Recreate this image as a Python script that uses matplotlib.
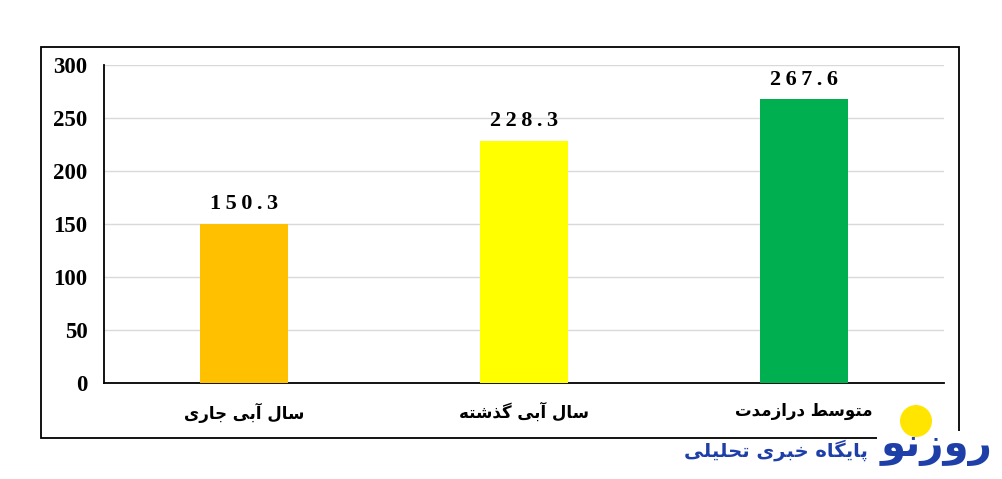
import matplotlib
matplotlib.use("Agg")
import matplotlib.pyplot as plt
from matplotlib.patches import Rectangle, Ellipse

# Persian labels (logical text) and their visual (pre-shaped, RTL-ordered) forms
categories = ["سال آبی جاری", "سال آبی گذشته", "متوسط درازمدت"]
category_display = [
    "\uFEEF\uFEAD\uFE8E\uFE9F \uFEF0\uFE91\uFE81 \uFEDD\uFE8E\uFEB3",
    "\uFEEA\uFE98\uFEB7\uFEAC\uFB94 \uFEF0\uFE91\uFE81 \uFEDD\uFE8E\uFEB3",
    "\uFE95\uFEAA\uFEE3\uFEAF\uFE8D\uFEAD\uFEA9 \uFEC2\uFEB3\uFEEE\uFE98\uFEE3",
]
values = [150.3, 228.3, 267.6]
value_labels = ["150.3", "228.3", "267.6"]
bar_colors = ["#FFC000", "#FFFF00", "#00B050"]
yticks = [0, 50, 100, 150, 200, 250, 300]

logo_word = "\uFEEE\uFEE7\uFEAF\uFEED\uFEAD"  # روزنو
logo_sub = ("\uFEF0\uFEE0\uFEF4\uFEE0\uFEA4\uFE97 "
            "\uFEEF\uFEAE\uFE92\uFEA7 "
            "\uFEE9\uFE8E\uFB95\uFEF3\uFE8E\uFB58")  # پایگاه خبری تحلیلی

W, H = 1003, 479
fig = plt.figure(figsize=(W / 100, H / 100), dpi=100)
fig.patch.set_facecolor("white")

ax = fig.add_axes([104 / W, 1 - 383 / H, (944 - 104) / W, (383 - 65) / H])
x = list(range(len(values)))
ax.bar(x, values, width=0.315, color=bar_colors, zorder=3)
ax.set_xlim(-0.5, len(values) - 0.5)
ax.set_ylim(0, 300)
ax.set_yticks(yticks)
ax.set_yticklabels([str(t) for t in yticks], fontfamily="Liberation Serif",
                   fontweight="bold", fontsize=16.5)
ax.tick_params(axis="y", length=0, pad=12)
ax.tick_params(axis="x", length=0, pad=14)
ax.set_xticks(x)
ax.set_xticklabels(category_display, fontfamily="DejaVu Sans",
                   fontweight="bold", fontsize=12)
ax.grid(axis="y", color="#D9D9D9", linewidth=1, zorder=0)
for s in ["top", "right"]:
    ax.spines[s].set_visible(False)
for s in ["left", "bottom"]:
    ax.spines[s].set_color("black")
    ax.spines[s].set_linewidth(1.3)

for xi, v, lab in zip(x, values, value_labels):
    ax.annotate("\u2009".join(lab), (xi, v), xytext=(0, 7), textcoords="offset points",
                ha="center", va="bottom", fontfamily="Liberation Serif",
                fontweight="bold", fontsize=16, zorder=4)

# outer frame
fig.patches.append(Rectangle((41 / W, 1 - 438 / H), (959 - 41) / W, (438 - 47) / H,
                             transform=fig.transFigure, fill=False,
                             edgecolor="black", linewidth=1.3, zorder=1))

# logo
fig.patches.append(Rectangle((877 / W, 1 - 479 / H), 126 / W, 48 / H,
                             transform=fig.transFigure, facecolor="white",
                             edgecolor="none", zorder=2))
fig.patches.append(Ellipse((916 / W, 1 - 421 / H), 32 / W, 32 / H,
                           transform=fig.transFigure, facecolor="#FFE500",
                           edgecolor="none", zorder=3))
fig.text(937 / W, 1 - 446 / H, logo_word, color="#1E3FA8", fontsize=29,
         fontweight="bold", ha="center", va="center", family="DejaVu Sans", zorder=4)
fig.text(776 / W, 1 - 450 / H, logo_sub, color="#1E3FA8", fontsize=14,
         fontweight="bold", ha="center", va="center", family="DejaVu Sans", zorder=4)

fig.savefig("out.png", dpi=100, facecolor="white")
